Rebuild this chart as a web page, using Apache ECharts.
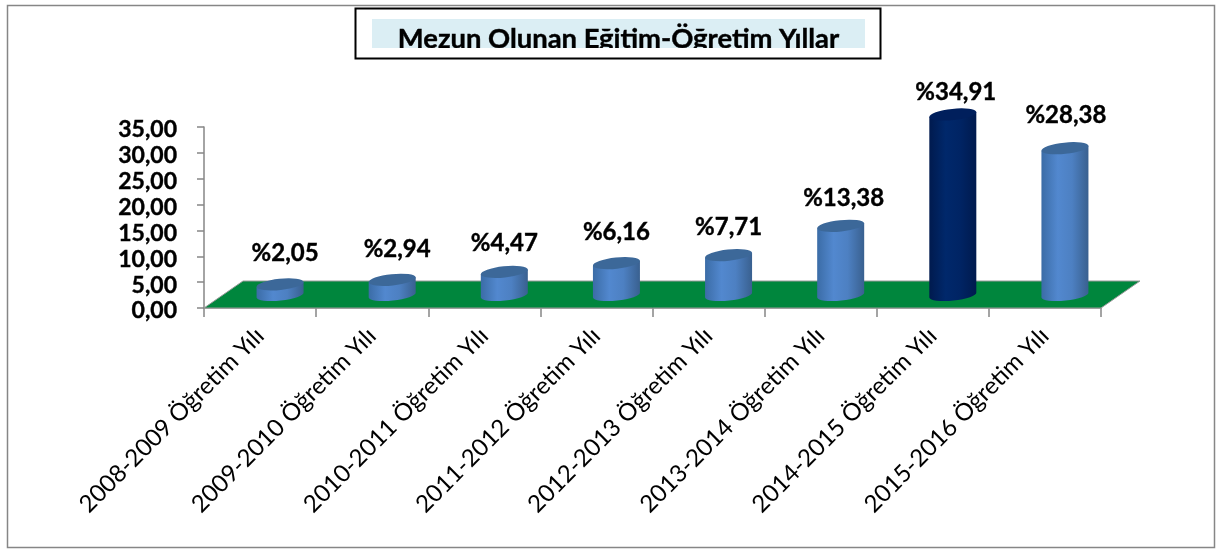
<!DOCTYPE html>
<html>
<head>
<meta charset="utf-8">
<style>html,body{margin:0;padding:0;background:#fff}#c{width:1221px;height:550px}</style>
<script src="https://cdn.jsdelivr.net/npm/echarts@6/dist/echarts.min.js"></script>
</head>
<body>
<div id="c"></div>
<script>
const categories = ['2008-2009 Öğretim Yılı','2009-2010 Öğretim Yılı','2010-2011 Öğretim Yılı','2011-2012 Öğretim Yılı','2012-2013 Öğretim Yılı','2013-2014 Öğretim Yılı','2014-2015 Öğretim Yılı','2015-2016 Öğretim Yılı'];
const values = [2.05,2.94,4.47,6.16,7.71,13.38,34.91,28.38];
const highlighted = [false,false,false,false,false,false,true,false];
const titleText = 'Mezun Olunan Eğitim-Öğretim Yıllar';
// hand-placed label nudges in the original, in pixels
const labelNudgeX = [5,5,0,0,0,3,3,1];
const labelNudgeY = [2,2,4,2,5,5,11,0];

const FONT = 'Lato, "Open Sans", sans-serif';
const DX = 20, DY = -13, RX = 23.5, RY = 5.6, TILT = 2.5;

function gradient(dark){
  const c = dark ? ['#001a4e','#00286b','#002464','#001a4e'] : ['#3b6ca6','#5288cf','#4d80c2','#39608f'];
  return {type:'linear',x:0,y:0,x2:1,y2:0,colorStops:[
    {offset:0,color:c[0]},{offset:.35,color:c[1]},{offset:.65,color:c[2]},{offset:1,color:c[3]}]};
}
function renderCylinder(params, api){
  const i = api.value(0), v = api.value(1);
  const top = api.coord([i,v]), base = api.coord([i,0]);
  const cx = top[0]+DX, yt = top[1]+DY, yb = base[1]+DY;
  const L = cx-RX, R = cx+RX, dark = highlighted[i];
  const arc = `A ${RX} ${RY} -6 0 1`;
  return {type:'group',children:[
    {type:'path',shape:{pathData:`M ${L} ${yt+TILT} L ${L} ${yb+TILT} A ${RX} ${RY} -6 0 0 ${R} ${yb-TILT} L ${R} ${yt-TILT} Z`},style:{fill:gradient(dark)}},
    {type:'path',shape:{pathData:`M ${L} ${yt+TILT} ${arc} ${R} ${yt-TILT} ${arc} ${L} ${yt+TILT} Z`},style:{fill:dark?'#001f5c':'#3c6899'}},
    {type:'text',style:{text:'%'+v.toFixed(2).replace('.',','),x:cx+labelNudgeX[i],y:yt-33+labelNudgeY[i],
      align:'center',verticalAlign:'middle',font:'bold 24px '+FONT,fill:'#000',stroke:'#000',lineWidth:0.4}}
  ]};
}
function renderFloor(params, api){
  const a = api.coord([0,0]), b = api.coord([categories.length-1,0]);
  const half = api.size([1,0])[0]/2;
  const x0 = a[0]-half, x1 = b[0]+half, y = a[1];
  return {type:'polygon',shape:{points:[[x0,y],[x1,y],[x1+39,y-27],[x0+39,y-27]]},
    style:{fill:'#00863d',stroke:'#9a9a9a',lineWidth:1}};
}
const chart = echarts.init(document.getElementById('c'),null,{renderer:'canvas'});
chart.setOption({
  animation:false,
  backgroundColor:'#fff',
  grid:{left:204,right:120,top:127,bottom:242,containLabel:false},
  xAxis:{type:'category',data:categories,
    axisLine:{lineStyle:{color:'#868686',width:1.5}},
    axisTick:{show:true,alignWithLabel:false,length:9,lineStyle:{color:'#868686',width:1.5}},
    axisLabel:{rotate:45,interval:0,margin:24,fontFamily:'Lato',fontSize:24,color:'#000'}},
  yAxis:{type:'value',min:0,max:35,interval:5,splitLine:{show:false},
    axisLine:{show:true,lineStyle:{color:'#868686',width:1.5}},
    axisTick:{show:true,length:7,lineStyle:{color:'#868686',width:1.5}},
    axisLabel:{margin:27,verticalAlign:'top',lineHeight:6,fontFamily:'Lato',fontWeight:'bold',fontSize:23,color:'#000',textBorderColor:'#000',textBorderWidth:0.4,
      formatter:v=>v.toFixed(2).replace('.',',')}},
  series:[
    {type:'custom',z:1,renderItem:renderFloor,data:[[0]],silent:true},
    {type:'custom',z:2,renderItem:renderCylinder,data:values.map((v,i)=>[i,v]),encode:{x:0,y:1}}
  ],
  graphic:[
    {type:'rect',z:100,shape:{x:7.5,y:5.5,width:1207,height:542},style:{fill:'none',stroke:'#868686',lineWidth:1.5}},
    {type:'rect',z:101,shape:{x:355.5,y:8.5,width:525,height:50},style:{fill:'#fff',stroke:'#000',lineWidth:2}},
    {type:'rect',z:102,shape:{x:372,y:19,width:493,height:29},style:{fill:'#dbeef4'}},
    {type:'text',z:103,style:{text:titleText,x:618.5,y:39,align:'center',verticalAlign:'middle',font:'bold 27.4px '+FONT,fill:'#000',stroke:'#000',lineWidth:0.4}},
    {type:'rect',z:104,shape:{x:372,y:48,width:493,height:9},style:{fill:'#fff'}}
  ]
});
</script>
</body>
</html>
